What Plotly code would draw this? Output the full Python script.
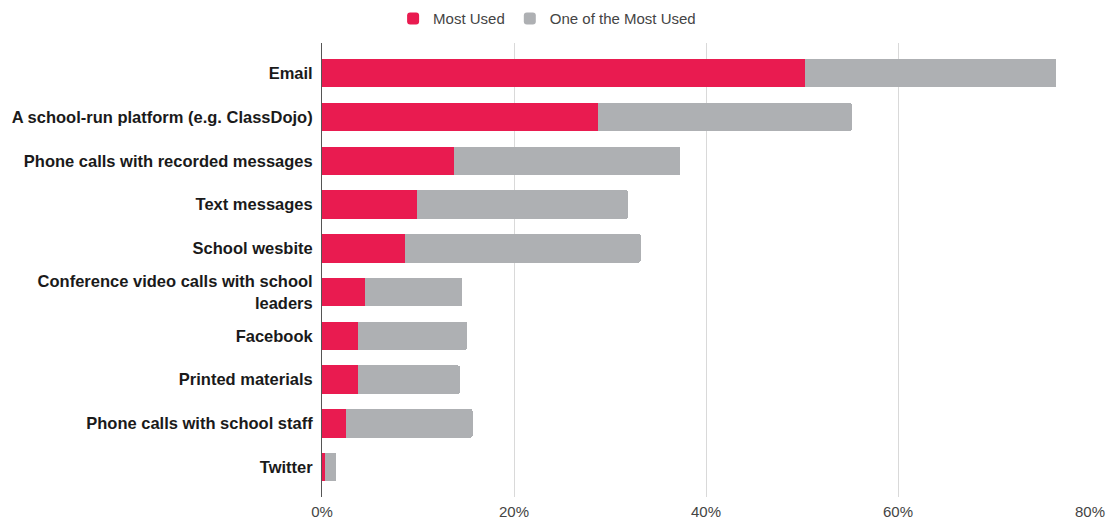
import plotly.graph_objects as go

categories = [
    "Email",
    "A school-run platform (e.g. ClassDojo)",
    "Phone calls with recorded messages",
    "Text messages",
    "School wesbite",
    "Conference video calls with school<br>leaders",
    "Facebook",
    "Printed materials",
    "Phone calls with school staff",
    "Twitter",
]
most_used = [50.3, 28.8, 13.8, 9.9, 8.6, 4.5, 3.7, 3.7, 2.5, 0.35]
one_of_most_used = [26.2, 26.4, 23.5, 22.0, 24.6, 10.1, 11.4, 10.7, 13.2, 1.15]
x_tickvals = [0, 20, 40, 60, 80]
x_ticktext = ["0%", "20%", "40%", "60%", "80%"]

RED = "#E91B50"
GRAY = "#AEB0B3"
FONT = "Liberation Sans, Arial, sans-serif"

fig = go.Figure()
fig.add_trace(go.Bar(
    y=categories, x=most_used, name="Most Used", orientation="h",
    marker=dict(color=RED, line=dict(width=0)),
))
fig.add_trace(go.Bar(
    y=categories, x=one_of_most_used, name="One of the Most Used", orientation="h",
    marker=dict(color=GRAY, line=dict(width=0)),
))

fig.update_layout(
    barmode="stack",
    bargap=0.35,
    barcornerradius=2,
    width=1112, height=521,
    margin=dict(l=322, r=22, t=43, b=24, autoexpand=False),
    paper_bgcolor="white",
    plot_bgcolor="white",
    font=dict(family=FONT, color="#444444", size=15),
    legend=dict(
        orientation="h", xref="container", yref="container",
        x=0.492, xanchor="center", y=0.964, yanchor="middle",
        font=dict(size=15, color="#444444"),
        traceorder="normal",
    ),
    xaxis=dict(
        range=[0, 80], tickvals=x_tickvals, ticktext=x_ticktext,
        showgrid=True, gridcolor="#D9D9D9", gridwidth=1,
        zeroline=False, showline=False, automargin=False,
        ticks="", ticklabelstandoff=4,
        tickfont=dict(size=15, color="#444444"),
    ),
    yaxis=dict(
        range=[9.68, -0.69], showgrid=False, zeroline=False,
        showline=True, linecolor="#555555", linewidth=1, automargin=False,
        ticks="outside", ticklen=5, tickcolor="rgba(0,0,0,0)",
        tickfont=dict(size=16.5, color="#1a1a1a", family=FONT, weight="bold"),
    ),
)

fig.write_html(
    "out.html",
    config={"displayModeBar": False},
    post_script="document.body.style.margin='0';",
)
